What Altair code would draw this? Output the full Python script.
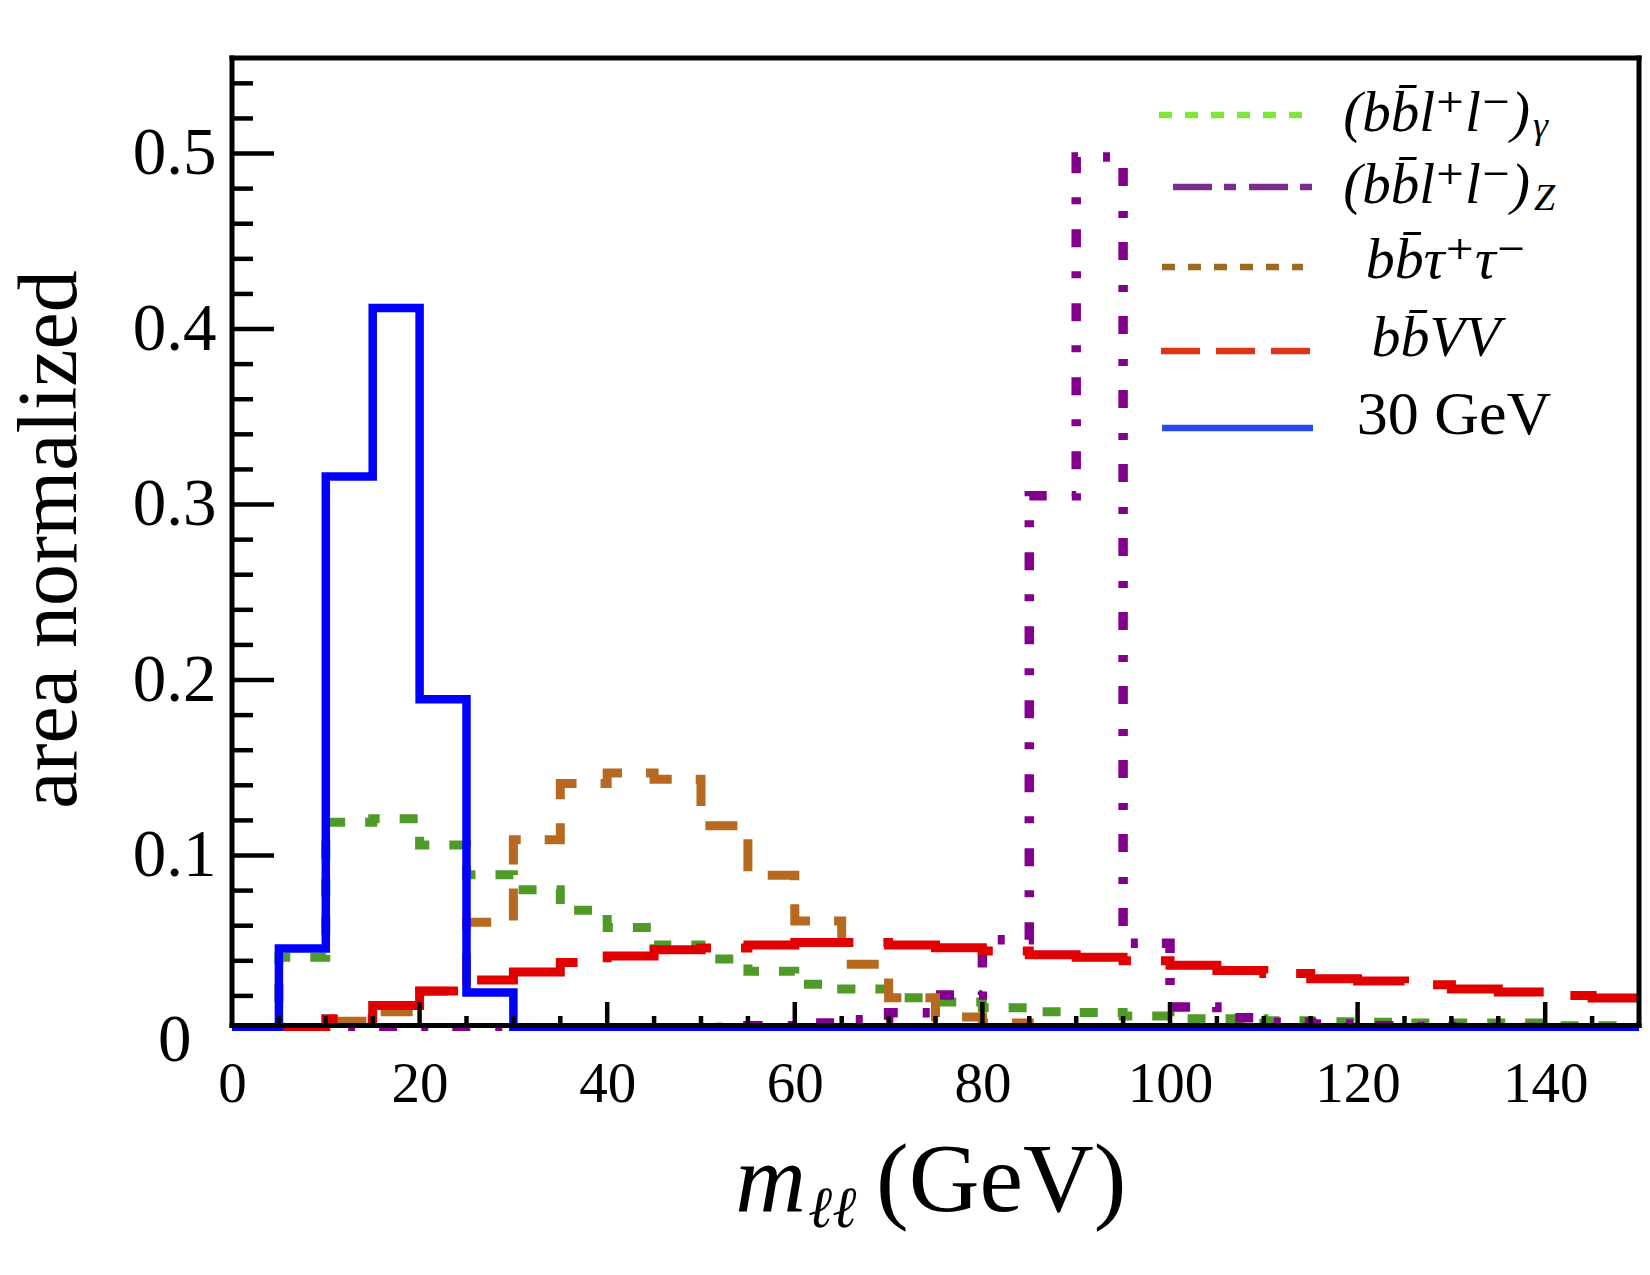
import altair as alt
import pandas as pd

SERIF = "Liberation Serif, DejaVu Serif, serif"

# plot area (px) and y range
W, H = 1407, 971
Y_MAX = 0.5533
BASE = H - 5.5          # centre line of the bottom frame

# 5 GeV bins from 0 to 150 GeV (left edges + closing edge)
edges = [0, 5, 10, 15, 20, 25, 30, 35, 40, 45, 50, 55, 60, 65, 70, 75,
         80, 85, 90, 95, 100, 105, 110, 115, 120, 125, 130, 135, 140, 145, 150]

# area-normalized m_ll distributions, one value per bin
bbll_gamma = [0.0, 0.042, 0.119, 0.121, 0.106, 0.089, 0.0805, 0.0688, 0.059, 0.049,
              0.041, 0.034, 0.0266, 0.024, 0.019, 0.0165, 0.0133, 0.011, 0.0105, 0.0085,
              0.007, 0.007, 0.0058, 0.0052, 0.005, 0.0046, 0.0045, 0.0045, 0.003, 0.003]
bbll_z = [0.0, 0.0, 0.0005, 0.0005, 0.001, 0.001, 0.001, 0.001, 0.0012, 0.0015,
          0.002, 0.003, 0.0045, 0.0064, 0.0104, 0.0205, 0.052, 0.305, 0.498, 0.05,
          0.0137, 0.0075, 0.005, 0.004, 0.003, 0.0025, 0.002, 0.002, 0.0015, 0.0015]
bbtautau = [0.0, 0.001, 0.0055, 0.011, 0.0226, 0.062, 0.109, 0.141, 0.147, 0.1434,
            0.117, 0.0887, 0.0627, 0.038, 0.019, 0.008, 0.0045, 0.002, 0.001, 0.0008,
            0.0005, 0.0003, 0.0002, 0.0, 0.0, 0.0, 0.0, 0.0, 0.0, 0.0]
bbvv = [0.0, 0.001, 0.007, 0.0146, 0.0228, 0.029, 0.0336, 0.039, 0.0427, 0.0463,
        0.0473, 0.049, 0.0505, 0.0505, 0.049, 0.0475, 0.0456, 0.0435, 0.042, 0.040,
        0.0374, 0.0345, 0.0327, 0.0298, 0.0285, 0.0264, 0.024, 0.0222, 0.0203, 0.0188]
signal_30 = [0.0, 0.047, 0.316, 0.412, 0.189, 0.022, 0.0, 0.0, 0.0, 0.0,
             0.0, 0.0, 0.0, 0.0, 0.0, 0.0, 0.0, 0.0, 0.0, 0.0,
             0.0, 0.0, 0.0, 0.0, 0.0, 0.0, 0.0, 0.0, 0.0, 0.0]

# axis ticks and labels
x_label_values = [0, 20, 40, 60, 80, 100, 120, 140]
x_major_ticks = [20, 40, 60, 80, 100, 120, 140]
x_minor_ticks = [5, 10, 15, 25, 30, 35, 45, 50, 55, 65, 70, 75, 85, 90, 95,
                 105, 110, 115, 125, 130, 135, 145]
y_label_values = [0, 0.1, 0.2, 0.3, 0.4, 0.5]
y_major_ticks = [0.1, 0.2, 0.3, 0.4, 0.5]
y_minor_ticks = [0.02, 0.04, 0.06, 0.08, 0.12, 0.14, 0.16, 0.18, 0.22, 0.24, 0.26,
                 0.28, 0.32, 0.34, 0.36, 0.38, 0.42, 0.44, 0.46, 0.48, 0.52, 0.54]

# name, values, line colour, dash, width, legend colour, legend dash
series = [
    ("gamma", bbll_gamma, "#509a28", [18, 20], 9, "#80e63c", [13, 13]),
    ("z", bbll_z, "#83008f", [18, 25, 7, 24], 9.5, "#7b2c8e", [39, 12, 12, 13]),
    ("tautau", bbtautau, "#b76a1f", [32, 24], 9, "#9b6a1c", [13, 13]),
    ("vv", bbvv, "#e00000", [118, 30], 9, "#dc3518", [39, 16]),
    ("signal", signal_30, "#0000ff", None, 8.5, "#2a4af0", None),
]

xs = alt.Scale(domain=[0, 150], nice=False, zero=False)
ys = alt.Scale(domain=[0, Y_MAX], nice=False, zero=False)

x_axis = alt.Axis(
    values=x_label_values, labelFont=SERIF, labelFontSize=57, labelColor="black",
    labelPadding=25, labelFlush=False, labelOverlap=False,
    ticks=False, tickSize=0, domain=False, grid=False, title=None,
)
y_axis = alt.Axis(
    values=y_label_values,
    labelExpr="datum.value == 0 ? '0' : format(datum.value, '.1f')",
    labelFont=SERIF, labelFontSize=67, labelColor="black",
    labelPadding={"condition": {"test": "datum.value == 0", "value": 41}, "value": 16},
    labelOffset={"condition": {"test": "datum.value == 0", "value": 9}, "value": 0},
    labelFlush=False, labelOverlap=False,
    ticks=False, tickSize=0, domain=False, grid=False,
    title="area normalized", titleFont=SERIF, titleFontSize=84,
    titleFontWeight="normal", titleColor="black", titleAngle=270,
    titleX=-157, titleY=479, titleAlign="center", titleBaseline="alphabetic",
)


def xenc():
    return alt.X("x:Q", scale=xs, axis=x_axis)


def yenc():
    return alt.Y("v:Q", scale=ys, axis=y_axis)


dummy = pd.DataFrame({"d": [0]})
layers = []

# histogram outlines
for name, vals, color, dash, width, _, _ in series:
    df = pd.DataFrame({"x": edges, "v": vals + [vals[-1]]})
    mark_kw = dict(interpolate="step-after", color=color, strokeWidth=width,
                   strokeCap="butt", strokeJoin="miter", clip=True)
    if dash:
        mark_kw["strokeDash"] = dash
    layers.append(alt.Chart(df).mark_line(**mark_kw).encode(x=xenc(), y=yenc()))

# frame
frame_kw = dict(color="black", strokeWidth=5, strokeCap="square")
layers += [
    alt.Chart(dummy).mark_rule(**frame_kw).encode(
        x=alt.value(0), x2=alt.value(W), y=alt.value(-2)),
    alt.Chart(dummy).mark_rule(**frame_kw).encode(
        x=alt.value(0), y=alt.value(-2), y2=alt.value(BASE)),
    alt.Chart(dummy).mark_rule(**frame_kw).encode(
        x=alt.value(W), y=alt.value(-2), y2=alt.value(BASE)),
    alt.Chart(dummy).mark_rule(**frame_kw).encode(
        x=alt.value(0), x2=alt.value(W), y=alt.value(BASE)),
]

# inward ticks
tick_kw = dict(color="black", strokeWidth=4.5)
layers += [
    alt.Chart(pd.DataFrame({"x": x_major_ticks})).mark_rule(**tick_kw).encode(
        x=xenc(), y=alt.value(BASE), y2=alt.value(942)),
    alt.Chart(pd.DataFrame({"x": x_minor_ticks})).mark_rule(**tick_kw).encode(
        x=xenc(), y=alt.value(BASE), y2=alt.value(956)),
    alt.Chart(pd.DataFrame({"v": y_major_ticks})).mark_rule(**tick_kw).encode(
        y=yenc(), x=alt.value(0), x2=alt.value(42)),
    alt.Chart(pd.DataFrame({"v": y_minor_ticks})).mark_rule(**tick_kw).encode(
        y=yenc(), x=alt.value(0), x2=alt.value(21)),
]


def text(label, x, y, size, align="left", style="normal"):
    return alt.Chart(dummy).mark_text(
        text=label, font=SERIF, fontSize=size, fontStyle=style, color="black",
        align=align, baseline="alphabetic",
    ).encode(x=alt.value(x), y=alt.value(y))


# x-axis title: m_ll (GeV)
layers += [
    text("m", 574, 1151, 98, align="right", style="italic"),
    text("\u2113\u2113", 576, 1167, 58, style="italic"),
    text("(GeV)", 644, 1151, 98),
]

# legend samples
legend_rows = [(927, 1070, 55), (941, 1080, 127), (930, 1071, 207),
               (929, 1078, 291), (930, 1081, 368)]
for (x0, x1, y), (_, _, _, _, _, lcolor, ldash) in zip(legend_rows, series):
    kw = dict(color=lcolor, strokeWidth=6.5, strokeCap="butt")
    if ldash:
        kw["strokeDash"] = ldash
    layers.append(alt.Chart(dummy).mark_rule(**kw).encode(
        x=alt.value(x0), x2=alt.value(x1), y=alt.value(y)))

# legend labels
bbll = "(bb\u0304l\u207al\u207b)"
layers += [
    text(bbll, 1298, 71, 57, align="right", style="italic"),
    text("\u03b3", 1301, 78, 38, style="italic"),
    text(bbll, 1298, 143, 57, align="right", style="italic"),
    text("Z", 1302, 150, 38, style="italic"),
    text("bb\u0304\u03c4\u207a\u03c4\u207b", 1214, 218, 58, align="center", style="italic"),
    text("bb\u0304VV", 1204, 296, 58, align="center", style="italic"),
    text("30 GeV", 1222, 374, 62, align="center"),
]

chart = alt.layer(*layers).properties(
    width=W, height=H,
    padding={"left": 232, "top": 60, "right": 11, "bottom": 244},
    autosize=alt.AutoSizeParams(type="none"),
    background="white",
).configure_view(stroke=None)

chart.save("out.html", embed_options={"renderer": "svg", "actions": False})
